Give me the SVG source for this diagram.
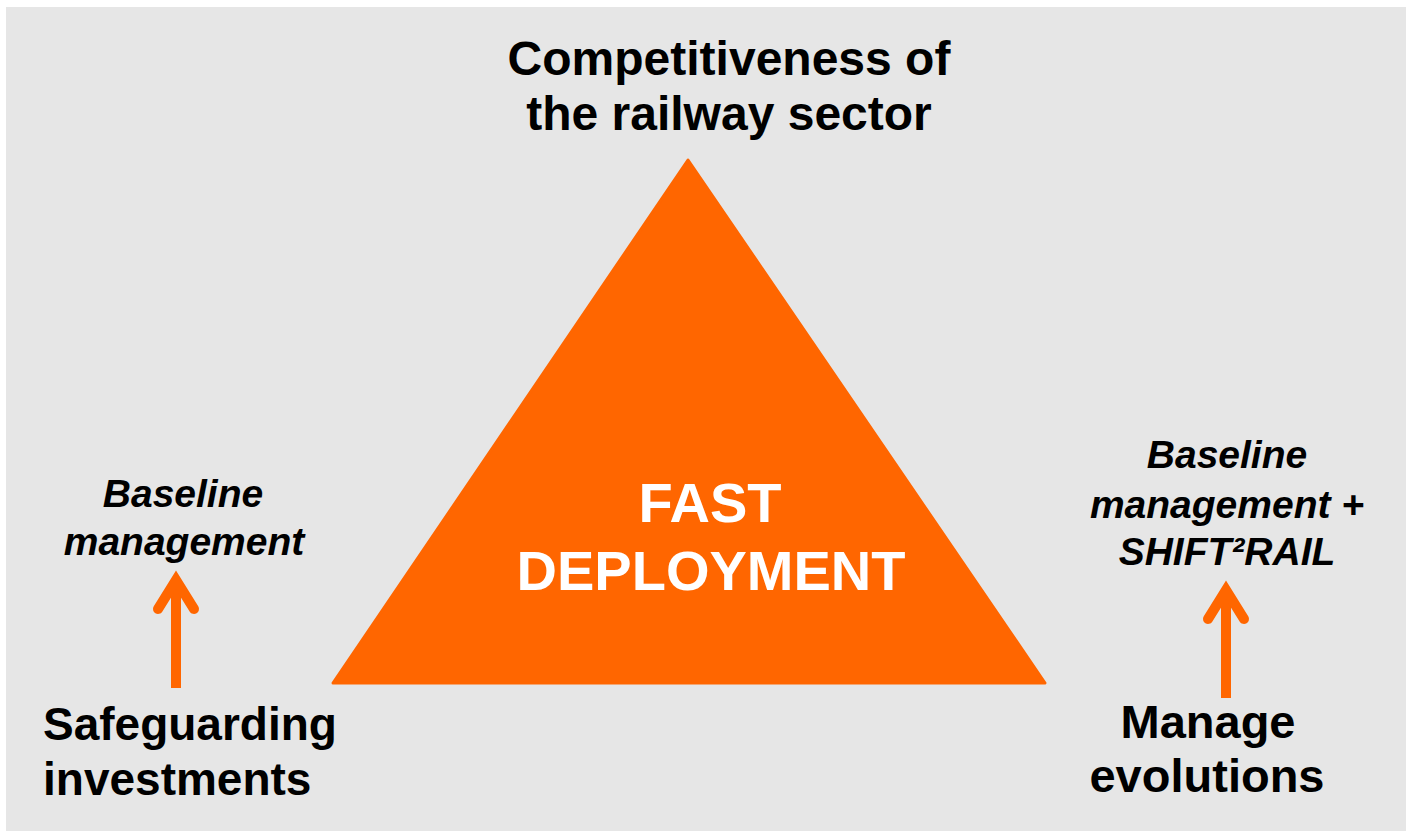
<svg xmlns="http://www.w3.org/2000/svg" width="1406" height="831" viewBox="0 0 1406 831">
  <defs>
    <style>
      .bold { font-family: "Liberation Sans", Arial, sans-serif; font-weight: bold; fill: #000; }
      .ital { font-family: "Liberation Sans", Arial, sans-serif; font-weight: bold; font-style: italic; fill: #000; font-size: 39px; }
      .arrow { fill: none; stroke: #ff6600; stroke-width: 10; }
    </style>
  </defs>

  <!-- page background -->
  <rect x="0" y="0" width="1406" height="831" fill="#ffffff"/>
  <rect x="6" y="7" width="1400" height="824" fill="#e6e6e6"/>

  <!-- central triangle -->
  <g id="fast-deployment">
    <polygon points="688,160 1045,683 333,683" fill="#ff6600" stroke="#ff6600" stroke-width="3" stroke-linejoin="round"/>
    <text x="710" y="522" text-anchor="middle" font-family="'Liberation Sans', Arial, sans-serif" font-weight="bold" font-size="56" fill="#ffffff">FAST</text>
    <text x="711" y="590" text-anchor="middle" font-family="'Liberation Sans', Arial, sans-serif" font-weight="bold" font-size="56" fill="#ffffff">DEPLOYMENT</text>
  </g>

  <!-- top label -->
  <g id="competitiveness">
    <text class="bold" x="729" y="75" text-anchor="middle" font-size="48">Competitiveness of</text>
    <text class="bold" x="729" y="130" text-anchor="middle" font-size="48">the railway sector</text>
  </g>

  <!-- left corner -->
  <g id="safeguarding">
    <text class="bold" x="43" y="740" font-size="46">Safeguarding</text>
    <text class="bold" x="43" y="795" font-size="46">investments</text>
  </g>
  <g id="baseline-left">
    <text class="ital" x="183" y="507" text-anchor="middle">Baseline</text>
    <text class="ital" x="184" y="555" text-anchor="middle">management</text>
  </g>

  <!-- right corner -->
  <g id="manage-evolutions">
    <text class="bold" x="1208" y="738" text-anchor="middle" font-size="47">Manage</text>
    <text class="bold" x="1207" y="792" text-anchor="middle" font-size="47">evolutions</text>
  </g>
  <g id="baseline-right">
    <text class="ital" x="1227" y="468" text-anchor="middle">Baseline</text>
    <text class="ital" x="1227" y="518" text-anchor="middle">management +</text>
    <text class="ital" x="1227" y="565" text-anchor="middle">SHIFT²RAIL</text>
  </g>

  <!-- connectors -->
  <g id="connectors">
    <line class="arrow" x1="176" y1="688" x2="176" y2="582"/>
    <polyline class="arrow" points="158,609 176,580 194,609" stroke-linecap="round" stroke-linejoin="miter"/>
    <line class="arrow" x1="1226" y1="698" x2="1226" y2="592"/>
    <polyline class="arrow" points="1208,619 1226,590 1244,619" stroke-linecap="round" stroke-linejoin="miter"/>
  </g>
</svg>
